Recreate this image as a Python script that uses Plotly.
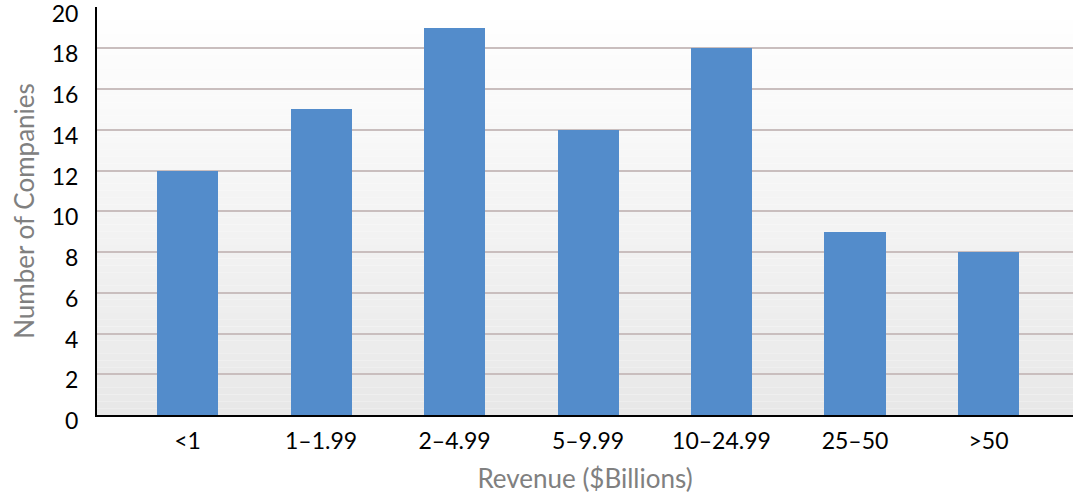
import plotly.graph_objects as go

categories = ["<1", "1–1.99", "2–4.99", "5–9.99", "10–24.99", "25–50", ">50"]
companies = [12, 15, 19, 14, 18, 9, 8]
y_ticks = [0, 2, 4, 6, 8, 10, 12, 14, 16, 18, 20]

FONT = "Lato"

fig = go.Figure()
fig.add_trace(go.Bar(
    x=list(range(len(categories))),
    y=companies,
    marker=dict(color="#538ccb", line=dict(width=0)),
    width=0.457,
    cliponaxis=False,
))

# vertical gradient background (white at top to light gray at bottom)
n = 60
shapes = []
for i in range(n):
    t = i / (n - 1)
    v = int(round(255 - (255 - 232) * t))
    shapes.append(dict(
        type="rect", xref="x domain", yref="y domain",
        x0=0, x1=1, y0=1 - (i + 1) / n, y1=1 - i / n,
        fillcolor=f"rgb({v},{v},{v})", line=dict(width=0), layer="below",
    ))

fig.update_layout(
    width=1073, height=496,
    margin=dict(l=97, r=0, t=7, b=81, autoexpand=False),
    paper_bgcolor="white",
    plot_bgcolor="rgba(0,0,0,0)",
    shapes=shapes,
    showlegend=False,
    font=dict(family=FONT, color="black"),
    xaxis=dict(
        tickmode="array",
        tickvals=list(range(len(categories))),
        ticktext=categories,
        range=[-0.678, 6.633],
        showgrid=False,
        showline=True, linecolor="black", linewidth=2,
        ticks="", tickfont=dict(size=23, family=FONT, color="black"),
        ticklabelstandoff=4,
        title=dict(text="Revenue ($Billions)", font=dict(size=26, family=FONT, color="#808080"), standoff=17),
        zeroline=False,
        automargin=False,
    ),
    yaxis=dict(
        range=[0, 20.03],
        tickvals=y_ticks,
        showgrid=True, gridcolor="#c9bebe", gridwidth=1.5,
        showline=True, linecolor="black", linewidth=2,
        ticks="", tickfont=dict(size=23, family=FONT, color="black"),
        ticklabelstandoff=12,
        ticklabelshift=6,
        ticklabeloverflow="allow",
        title=dict(text="Number of Companies", font=dict(size=26, family=FONT, color="#808080"), standoff=10),
        zeroline=False,
        automargin=False,
    ),
    bargap=0,
)

fig.write_html(
    "out.html",
    config={"displayModeBar": False},
    post_script="document.body.style.margin='0';document.body.style.padding='0';",
)
